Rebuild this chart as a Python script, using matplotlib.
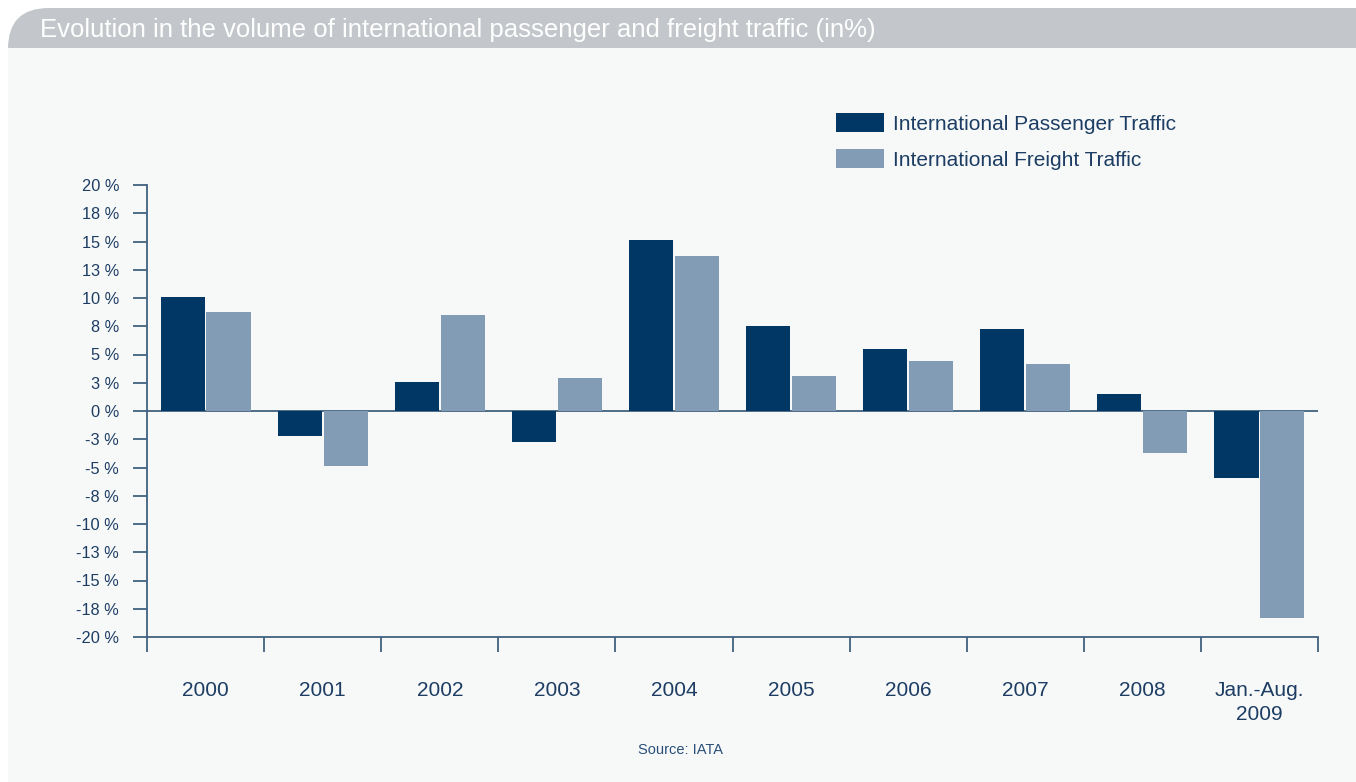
import numpy as np
import matplotlib.pyplot as plt
from matplotlib.patches import FancyBboxPatch, Rectangle

# dados (em %)
anos = ["2000", "2001", "2002", "2003", "2004", "2005", "2006", "2007", "2008", "Jan.-Aug.\n2009"]
passageiros = [10.1, -2.2, 2.6, -2.7, 15.1, 7.5, 5.5, 7.3, 1.5, -5.9]
carga = [8.8, -4.9, 8.5, 2.9, 13.7, 3.1, 4.4, 4.2, -3.7, -18.3]
yticks = np.arange(-20, 20.1, 2.5)

cor_pass = "#003764"
cor_carga = "#829cb5"
cor_eixo = "#41627f"
cor_texto = "#1d3d63"

plt.rcParams['font.family'] = ['Liberation Sans', 'DejaVu Sans']

fig = plt.figure(figsize=(13.56, 7.82), dpi=100)
fig.patch.set_facecolor("white")

# barra do título (canto superior esquerdo arredondado) e fundo do painel
fig.patches.append(FancyBboxPatch((8/1356, 1 - 120/782), 1.2, 112/782,
                                  boxstyle="round,pad=0,rounding_size=0.03",
                                  transform=fig.transFigure, facecolor="#c3c7cb",
                                  edgecolor="none", zorder=-3, mutation_aspect=1356/782))
fig.patches.append(Rectangle((8/1356, 0), 1 - 8/1356, 1 - 48/782,
                             transform=fig.transFigure, facecolor="#f7f9f9",
                             edgecolor="none", zorder=-2))
fig.text(40/1356, 1 - 30/782, "Evolution in the volume of international passenger and freight traffic (in%)",
         color="white", fontsize=18.5, va="center", ha="left")

ax = fig.add_axes([147/1356, 1 - 637/782, (1318 - 147)/1356, (637 - 185)/782])
ax.set_facecolor("none")

x = np.arange(len(anos))
w = 0.376
ax.bar(x - 0.196, passageiros, w, color=cor_pass, label="International Passenger Traffic", zorder=3)
ax.bar(x + 0.196, carga, w, color=cor_carga, label="International Freight Traffic", zorder=3)
ax.axhline(0, color=cor_eixo, lw=1.3, zorder=2)

ax.set_xlim(-0.5, len(anos) - 0.5)
ax.set_ylim(-20, 20)

def rotulo(v):
    n = int(np.floor(abs(v) + 0.5))
    return ("-" if v < 0 else "") + f"{n} %"

ax.set_yticks(yticks)
ax.set_yticklabels([rotulo(v) for v in yticks])
ax.set_xticks(x)
ax.set_xticklabels(anos, linespacing=1.3)
ax.set_xticks(np.arange(-0.5, len(anos)), minor=True)
ax.tick_params(axis="x", which="major", length=0, pad=32, labelsize=15, labelcolor=cor_texto)
ax.tick_params(axis="x", which="minor", length=11, width=1.3, color=cor_eixo, direction="out")
ax.tick_params(axis="y", length=10, width=1.3, color=cor_eixo, labelsize=11.8,
               labelcolor=cor_texto, pad=10)

for s in ["top", "right"]:
    ax.spines[s].set_visible(False)
for s in ["left", "bottom"]:
    ax.spines[s].set_color(cor_eixo)
    ax.spines[s].set_linewidth(1.3)

leg = ax.legend(loc="upper left", bbox_to_anchor=(817/1356, 1 - 94/782),
                bbox_transform=fig.transFigure, frameon=False, fontsize=15,
                handlelength=2.3, handleheight=1.05, handletextpad=0.45, labelspacing=0.75,
                labelcolor=cor_texto)

fig.text(681/1356, 1 - 750/782, "Source: IATA", color="#2a4f78", fontsize=10.5,
         ha="center", va="center")

plt.savefig("out.png", dpi=100, facecolor=fig.get_facecolor())
